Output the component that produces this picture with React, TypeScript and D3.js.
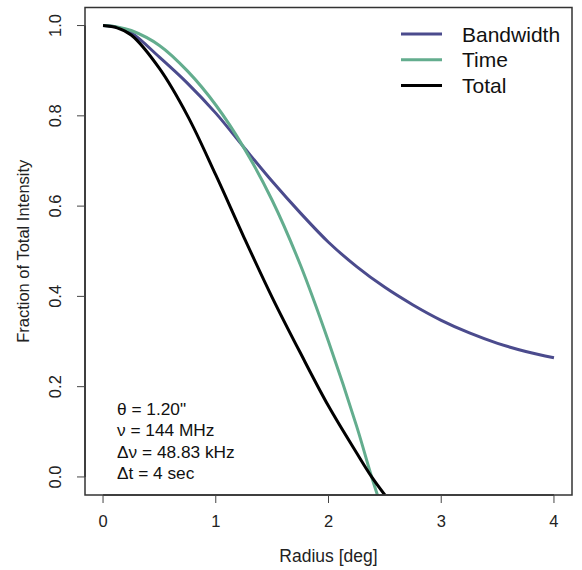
import React, { useEffect, useRef } from 'react';
import * as d3 from 'd3';

// Values
const bwRadius = [0, 0.125, 0.25, 0.5, 0.75, 1.0, 1.25, 1.5, 1.75, 2.0, 2.25, 2.5, 2.75, 3.0, 3.25, 3.5, 3.75, 4.0];
const bandwidth = [1.0, 0.996, 0.984, 0.93, 0.872, 0.806, 0.73, 0.655, 0.585, 0.52, 0.466, 0.42, 0.381, 0.347, 0.319, 0.296, 0.278, 0.264];

const tRadius = [0, 0.125, 0.25, 0.5, 0.75, 1.0, 1.25, 1.5, 1.75, 2.0, 2.25, 2.383, 2.5];
const time = [1.0, 0.997, 0.989, 0.956, 0.899, 0.824, 0.729, 0.613, 0.47, 0.3, 0.112, 0, -0.09];
const total = [1.0, 0.995, 0.979, 0.905, 0.8, 0.669, 0.531, 0.398, 0.275, 0.157, 0.053, 0, -0.04];

const xTicks = [0, 1, 2, 3, 4];
const yTicks = [0, 0.2, 0.4, 0.6, 0.8, 1.0];

const legendItems = [
  { label: 'Bandwidth', color: '#4b4b8d' },
  { label: 'Time', color: '#63ad8e' },
  { label: 'Total', color: '#000000' },
];

const notes = ['θ = 1.20"', 'ν = 144 MHz', 'Δν = 48.83 kHz', 'Δt = 4 sec'];

const W = 582, H = 570;
const box = { left: 85, right: 572, top: 7.5, bottom: 495 };
const font = '"Liberation Sans", Arial, Helvetica, sans-serif';

const App = () => {
  const ref = useRef<SVGSVGElement | null>(null);

  useEffect(() => {
    if (!ref.current) return;
    const svg = d3.select(ref.current);
    svg.selectAll('*').remove();

    const x = d3.scaleLinear().domain([-0.16, 4.16]).range([box.left, box.right]);
    const y = d3.scaleLinear().domain([-0.04, 1.04]).range([box.bottom, box.top]);

    svg.append('defs').append('clipPath').attr('id', 'plotClip')
      .append('rect')
      .attr('x', box.left).attr('y', box.top)
      .attr('width', box.right - box.left).attr('height', box.bottom - box.top);

    const line = d3.line<[number, number]>()
      .x(d => x(d[0]))
      .y(d => y(d[1]))
      .curve(d3.curveCatmullRom.alpha(0.5));

    const series = [
      { xs: bwRadius, ys: bandwidth, color: legendItems[0].color },
      { xs: tRadius, ys: time, color: legendItems[1].color },
      { xs: tRadius, ys: total, color: legendItems[2].color },
    ];

    const g = svg.append('g').attr('clip-path', 'url(#plotClip)');
    series.forEach(s => {
      g.append('path')
        .datum(s.xs.map((r, i) => [r, s.ys[i]] as [number, number]))
        .attr('fill', 'none')
        .attr('stroke', s.color)
        .attr('stroke-width', 3)
        .attr('stroke-linejoin', 'round')
        .attr('d', line);
    });

    // frame
    svg.append('rect')
      .attr('x', box.left).attr('y', box.top)
      .attr('width', box.right - box.left).attr('height', box.bottom - box.top)
      .attr('fill', 'none').attr('stroke', '#333').attr('stroke-width', 1.5);

    // x axis
    const xa = svg.append('g');
    xa.append('line')
      .attr('x1', x(0)).attr('x2', x(4)).attr('y1', box.bottom).attr('y2', box.bottom)
      .attr('stroke', '#333').attr('stroke-width', 1.5);
    xTicks.forEach(t => {
      xa.append('line')
        .attr('x1', x(t)).attr('x2', x(t)).attr('y1', box.bottom).attr('y2', box.bottom + 8)
        .attr('stroke', '#444').attr('stroke-width', 1);
      xa.append('text')
        .attr('x', x(t)).attr('y', 527)
        .attr('text-anchor', 'middle')
        .attr('font-family', font).attr('font-size', 16.5)
        .attr('fill', '#222')
        .text(String(t));
    });

    // y axis
    const ya = svg.append('g');
    ya.append('line')
      .attr('x1', box.left).attr('x2', box.left).attr('y1', y(0)).attr('y2', y(1))
      .attr('stroke', '#333').attr('stroke-width', 1.5);
    yTicks.forEach(t => {
      ya.append('line')
        .attr('x1', box.left - 8).attr('x2', box.left).attr('y1', y(t)).attr('y2', y(t))
        .attr('stroke', '#444').attr('stroke-width', 1);
      ya.append('text')
        .attr('transform', `translate(61,${y(t)}) rotate(-90)`)
        .attr('text-anchor', 'middle')
        .attr('font-family', font).attr('font-size', 16.5)
        .attr('fill', '#222')
        .text(t.toFixed(1));
    });

    // axis titles
    svg.append('text')
      .attr('x', (box.left + box.right) / 2).attr('y', 562)
      .attr('text-anchor', 'middle')
      .attr('font-family', font).attr('font-size', 17.5)
      .attr('fill', '#222')
      .text('Radius [deg]');
    svg.append('text')
      .attr('transform', `translate(29,${(box.top + box.bottom) / 2}) rotate(-90)`)
      .attr('text-anchor', 'middle')
      .attr('font-family', font).attr('font-size', 16.5)
      .attr('fill', '#222')
      .text('Fraction of Total Intensity');

    // legend
    const lg = svg.append('g');
    legendItems.forEach((d, i) => {
      const ly = 34 + i * 25.8;
      lg.append('line')
        .attr('x1', 401).attr('x2', 442).attr('y1', ly).attr('y2', ly)
        .attr('stroke', d.color).attr('stroke-width', 3);
      lg.append('text')
        .attr('x', 462).attr('y', ly + 7.5)
        .attr('font-family', font).attr('font-size', 21)
        .attr('fill', '#111')
        .text(d.label);
    });

    // parameter notes
    notes.forEach((n, i) => {
      svg.append('text')
        .attr('x', 117).attr('y', 415 + i * 21.3)
        .attr('font-family', font).attr('font-size', 17.3)
        .attr('fill', '#111')
        .text(n);
    });
  }, []);

  return (
    <svg
      ref={ref}
      width={W}
      height={H}
      viewBox={`0 0 ${W} ${H}`}
      style={{ position: 'absolute', left: 0, top: 0, background: '#fff' }}
    />
  );
};

export default App;
